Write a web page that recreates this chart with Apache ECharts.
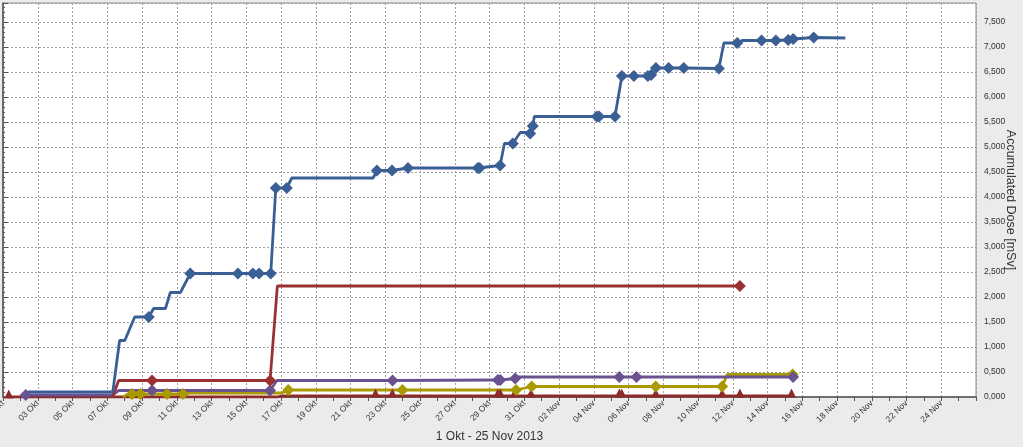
<!DOCTYPE html>
<html><head><meta charset="utf-8">
<script src="https://cdn.jsdelivr.net/npm/echarts@6/dist/echarts.min.js"></script>
<style>html,body{margin:0;padding:0;background:#ebebeb}#c{width:1023px;height:447px}</style>
</head><body><div id="c"></div>
<script>
// x values: days since 1 Okt 2013 (fractional); y values: accumulated dose [mSv]
const xTitle = '1 Okt - 25 Nov 2013';
const yTitle = 'Accumulated Dose [mSv]';
const monthNames = ['Okt', 'Nov'];

const blueDays = [1.25, 1.48, 6.32, 6.71, 7.01, 7.58, 8.39, 8.67, 9.35, 9.63, 10.21, 10.78, 13.52, 14.38, 14.74, 15.41, 15.70, 16.33, 16.62, 21.30, 21.52, 22.39, 23.31, 27.33, 27.43, 28.61, 28.86, 29.34, 29.77, 30.24, 30.34, 30.49, 30.58, 34.18, 34.31, 35.22, 35.62, 36.31, 37.11, 37.30, 37.58, 38.31, 39.18, 41.20, 41.49, 42.26, 42.55, 43.66, 44.48, 45.19, 45.48, 46.66, 48.48];
const blueDose = [0, 0.10, 0.10, 1.13, 1.13, 1.60, 1.60, 1.77, 1.77, 2.09, 2.09, 2.47, 2.47, 2.47, 2.47, 2.47, 4.18, 4.18, 4.38, 4.38, 4.53, 4.53, 4.58, 4.58, 4.58, 4.63, 5.07, 5.07, 5.29, 5.29, 5.27, 5.42, 5.61, 5.61, 5.61, 5.61, 6.42, 6.42, 6.42, 6.44, 6.58, 6.58, 6.58, 6.57, 7.08, 7.08, 7.13, 7.13, 7.13, 7.14, 7.16, 7.19, 7.18];
const blueMarked = [0, 0, 0, 0, 0, 0, 1, 0, 0, 0, 0, 1, 1, 1, 1, 1, 1, 1, 0, 0, 1, 1, 1, 1, 1, 1, 0, 1, 0, 0, 1, 1, 0, 1, 1, 1, 1, 1, 1, 1, 1, 1, 1, 1, 0, 1, 0, 1, 1, 1, 1, 1, 0];

const redDays = [6.30, 6.66, 8.58, 15.37, 15.47, 15.79, 42.41];
const redDose = [0, 0.33, 0.33, 0.33, 0.36, 2.22, 2.22];
const redMarked = [0, 0, 1, 1, 0, 0, 1];

const purpleDays = [1.31, 6.30, 6.66, 8.58, 15.37, 15.76, 22.42, 28.48, 28.62, 29.48, 29.60, 35.47, 36.46, 45.47];
const purpleDose = [0.04, 0.04, 0.13, 0.13, 0.13, 0.33, 0.33, 0.34, 0.34, 0.37, 0.40, 0.40, 0.40, 0.40];
const purpleMarked = [1, 0, 0, 1, 1, 0, 1, 1, 1, 1, 0, 1, 1, 1];

const oliveDays = [6.90, 7.20, 7.43, 7.91, 9.44, 10.36, 10.60, 16.05, 16.42, 22.99, 29.53, 30.43, 37.57, 41.39, 41.68, 45.45];
const oliveDose = [0, 0.06, 0.06, 0.06, 0.06, 0.06, 0.08, 0.08, 0.14, 0.14, 0.14, 0.21, 0.21, 0.21, 0.45, 0.45];
const oliveMarked = [0, 0, 1, 1, 1, 1, 0, 0, 1, 1, 1, 1, 1, 1, 0, 1];

const darkRedDays = [0.33, 15.80, 16.00, 21.44, 22.41, 28.48, 28.62, 29.44, 30.39, 35.47, 35.61, 37.57, 41.39, 42.41, 45.38];
const darkRedDose = [0, 0, 0.02, 0.02, 0.02, 0.02, 0.02, 0.02, 0.02, 0.02, 0.02, 0.02, 0.02, 0.02, 0.02];
const darkRedMarked = [1, 0, 0, 1, 1, 1, 1, 1, 1, 1, 1, 1, 1, 1, 1];

function pts(days, dose, marked, sym) {
  return days.map((d, i) => ({ value: [d, dose[i]], symbol: marked[i] ? sym : 'none' }));
}
function mk(name, days, dose, marked, sym, color, size, offset) {
  return {
    name, type: 'line', data: pts(days, dose, marked, sym),
    showAllSymbol: true, symbolSize: size, symbolOffset: offset || [0, 0],
    lineStyle: { color, width: 2.8 }, itemStyle: { color },
    emphasis: { disabled: true }, silent: true
  };
}
const font = 'Liberation Sans, Arial, sans-serif';
const chart = echarts.init(document.getElementById('c'));
chart.setOption({
  animation: false,
  backgroundColor: '#ebebeb',
  grid: { left: 3, right: 47, top: 3, bottom: 50, outerBoundsMode: 'none', containLabel: false, show: true, backgroundColor: '#ffffff', borderColor: '#8a8a8a', borderWidth: 1 },
  xAxis: {
    type: 'value', min: 0, max: 56, interval: 2,
    name: xTitle, nameLocation: 'middle', nameGap: 34, nameMoveOverlap: false,
    nameTextStyle: { fontFamily: font, fontSize: 12, color: '#333' },
    axisLine: { show: true, lineStyle: { color: '#555', width: 1.5 } },
    axisTick: { show: true, length: 4, lineStyle: { color: '#555' } },
    minorTick: { show: true, splitNumber: 2, length: 4, lineStyle: { color: '#555' } },
    splitLine: { show: true, lineStyle: { color: '#a0a0a0', type: [2, 2] } },
    axisLabel: {
      rotate: 45, margin: 5, fontFamily: font, fontSize: 8.5, color: '#333', showMaxLabel: false,
      formatter: v => { const d = new Date(2013, 9, 1 + Math.round(v)); return String(d.getDate()).padStart(2, '0') + ' ' + monthNames[d.getMonth() - 9]; }
    }
  },
  yAxis: {
    type: 'value', position: 'right', min: 0, max: 7.88, interval: 0.5,
    name: yTitle, nameLocation: 'middle', nameRotate: -90, nameGap: 28, nameMoveOverlap: false,
    nameTextStyle: { fontFamily: font, fontSize: 12.5, color: '#333' },
    axisLine: { show: true, lineStyle: { color: '#555', width: 1.5 } },
    axisTick: { show: true, length: 5, lineStyle: { color: '#555' } },
    minorTick: { show: true, splitNumber: 5, length: 2, lineStyle: { color: '#555' } },
    splitLine: { show: true, lineStyle: { color: '#a0a0a0', type: [2, 2] } },
    axisLabel: { margin: 8, fontFamily: font, fontSize: 8.5, color: '#333', showMaxLabel: false,
      formatter: v => v.toFixed(3).replace('.', ',') }
  },
  series: [
    mk('darkred', darkRedDays, darkRedDose, darkRedMarked, 'triangle', '#8c2b29', 9, [0, -3]),
    mk('olive', oliveDays, oliveDose, oliveMarked, 'diamond', '#a89a00', 12),
    mk('purple', purpleDays, purpleDose, purpleMarked, 'diamond', '#6a5290', 12),
    mk('red', redDays, redDose, redMarked, 'diamond', '#9b3032', 12),
    mk('blue', blueDays, blueDose, blueMarked, 'diamond', '#3a5f94', 12)
  ]
});
</script></body></html>
